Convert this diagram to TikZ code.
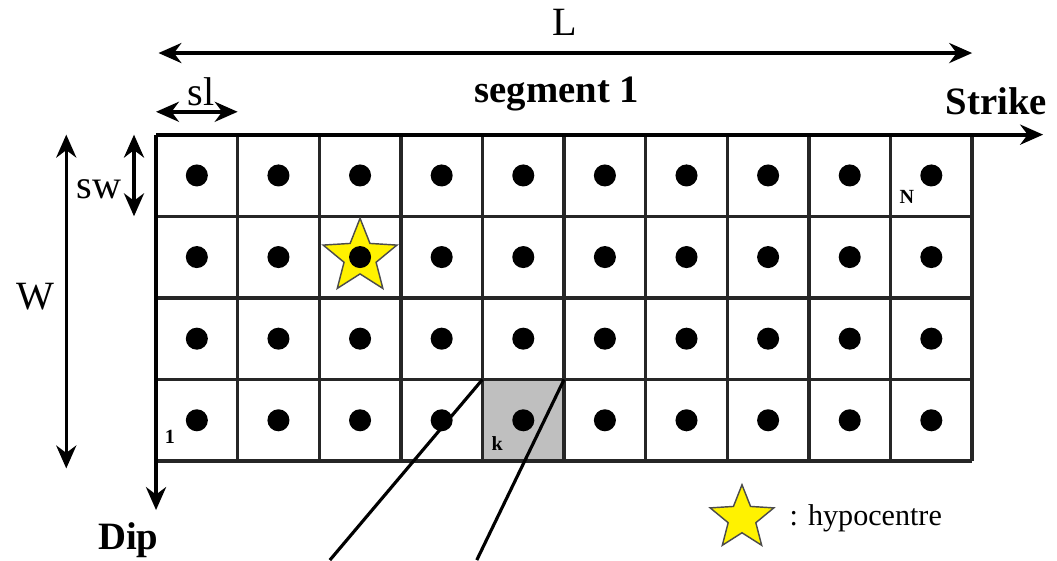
\documentclass[tikz,border=0pt]{standalone}
\usepackage{fontspec}
\setmainfont{Liberation Serif}[BoldFont={Liberation Serif Bold}]
\usetikzlibrary{arrows.meta, shapes.geometric, positioning}

\begin{document}
\begin{tikzpicture}[>={Stealth[length=8pt,width=7pt]}, x=1cm, y=1cm,
    gridline/.style={line width=1.2pt, black!85},
    dimarrow/.style={<->, line width=1.2pt},
    axisarrow/.style={->, line width=1.3pt},
    cellpt/.style={circle, fill=black, inner sep=0pt, minimum size=0.27cm},
    hypostar/.style={star, star points=5, star point ratio=2.3, fill=yellow,
        draw=black!70, line width=0.5pt, inner sep=0pt},
    bigtxt/.style={font=\fontsize{14}{16}\selectfont},
    boldtxt/.style={font=\fontsize{13.5}{15}\selectfont\bfseries},
    tinytxt/.style={font=\fontsize{7}{8}\selectfont\bfseries}]

    % fixed frame, same proportions as the original figure
    \useasboundingbox (-1.912,-1.213) rectangle (11.04,5.65);

    % =================================================================
    % 1. SUBFAULT GRID (10 x 4) WITH THE SHADED SUBFAULT k
    % =================================================================
    \fill[black!25] (4,0) rectangle (5,1);
    \draw[gridline] (0,0) grid (10,4);

    % lines leaving subfault k towards the bottom
    \coordinate (kA) at (4,1);
    \coordinate (kB) at (5,1);
    \coordinate (kAend) at (2.13,-1.213);
    \coordinate (kBend) at (3.93,-1.213);
    \draw[line width=1.1pt] (kA) -- (kAend);
    \draw[line width=1.1pt] (kB) -- (kBend);

    % hypocentre (under its point source)
    \node[hypostar, minimum size=0.95cm] (hypo) at (2.5,2.5) {};

    % point sources at the centre of every subfault
    \foreach \i in {0,...,9} {
        \foreach \j in {0,...,3} {
            \node[cellpt] (pt-\i-\j) at (\i+0.5,\j+0.5) {};
        }
    }

    % subfault numbers
    \node[tinytxt] (nfirst) at (0.17,0.3) {1};
    \node[tinytxt] (nk) at (4.18,0.21) {k};
    \node[tinytxt] (nlast) at (9.2,3.24) {N};

    % =================================================================
    % 2. STRIKE AND DIP AXES
    % =================================================================
    \coordinate (origin) at (0,4);
    \coordinate (strikeend) at (10.87,4);
    \coordinate (dipend) at (0,-0.6);
    \draw[axisarrow] (origin) -- (strikeend);
    \draw[axisarrow] (origin) -- (dipend);
    \node[boldtxt, anchor=south east] (strike) at (11.04,4.12) {Strike};
    \node[boldtxt] (dip) at (-0.34,-0.97) {Dip};

    % =================================================================
    % 3. DIMENSIONS L, W, sl, sw
    % =================================================================
    \coordinate (Lleft) at (0.03,5.0);
    \coordinate (Lright) at (10.0,5.0);
    \draw[dimarrow] (Lleft) -- (Lright);
    \node[bigtxt] (Llab) at (5.01,5.38) {L};

    \node[boldtxt] (seg) at (4.91,4.5) {segment 1};

    \coordinate (slleft) at (0,4.28);
    \coordinate (slright) at (1,4.28);
    \draw[dimarrow] (slleft) -- (slright);
    \node[bigtxt] (sllab) at (0.55,4.52) {sl};

    \coordinate (Wtop) at (-1.1,4.0);
    \coordinate (Wbot) at (-1.1,-0.09);
    \draw[dimarrow] (Wtop) -- (Wbot);
    \node[bigtxt] (Wlab) at (-1.48,2.02) {W};

    \coordinate (swtop) at (-0.27,4.0);
    \coordinate (swbot) at (-0.27,3.0);
    \draw[dimarrow] (swtop) -- (swbot);
    \node[bigtxt] (swlab) at (-0.7,3.33) {sw};

    % =================================================================
    % 4. LEGEND
    % =================================================================
    \node[hypostar, minimum size=0.82cm] (legstar) at (7.18,-0.7) {};
    \node[font=\fontsize{10.5}{12}\selectfont, anchor=west] (leglab)
        at (7.64,-0.7) {: hypocentre};

\end{tikzpicture}
\end{document}
